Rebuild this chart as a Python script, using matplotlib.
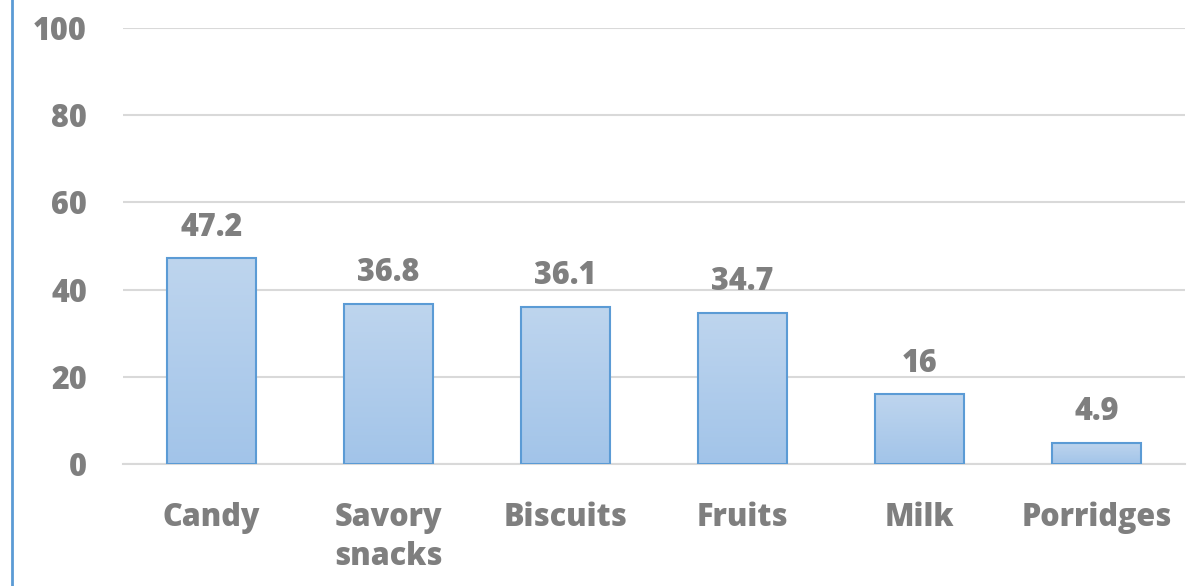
import matplotlib
matplotlib.use("Agg")
import matplotlib.pyplot as plt
import numpy as np
from matplotlib.lines import Line2D
from matplotlib.colors import LinearSegmentedColormap

categories = ["Candy", "Savory\nsnacks", "Biscuits", "Fruits", "Milk", "Porridges"]
values = [47.2, 36.8, 36.1, 34.7, 16, 4.9]
value_labels = ["47.2", "36.8", "36.1", "34.7", "16", "4.9"]
yticks = [0, 20, 40, 60, 80, 100]

plt.rcParams['font.family'] = ['Open Sans', 'DejaVu Sans']
W, H = 1199, 586
fig = plt.figure(figsize=(W / 100, H / 100), dpi=100)
ax = fig.add_axes([123 / W, 1 - 464 / H, (1185 - 123) / W, (464 - 28) / H])

gray = "#7f7f7f"
fs = 22
fw = 800
x = np.arange(len(categories))
bars = ax.bar(x, values, width=0.5, color="none", edgecolor="#5b9bd5", linewidth=1.5, zorder=3)

grad = np.linspace(0, 1, 256).reshape(-1, 1)
cmap = LinearSegmentedColormap.from_list("g", ["#a2c4e9", "#bed5ee"])
for b in bars:
    x0, y0 = b.get_x(), b.get_y()
    w, h = b.get_width(), b.get_height()
    im = ax.imshow(grad, extent=[x0, x0 + w, y0, y0 + h], origin="lower", aspect="auto",
                   cmap=cmap, zorder=2)
    im.set_clip_path(b)

for xi, v, lab in zip(x, values, value_labels):
    ax.annotate(lab, (xi, v), xytext=(0, 10.5), textcoords="offset points", ha="center",
                va="bottom", fontsize=fs, fontweight=fw, color=gray)

ax.set_xlim(-0.5, len(categories) - 0.5)
ax.set_ylim(0, 100)
ax.set_yticks(yticks)
ax.set_yticklabels([str(t) for t in yticks], fontsize=fs, fontweight=fw, color=gray)
ax.set_xticks(x)
ax.set_xticklabels(categories, fontsize=fs, fontweight=fw, color=gray, linespacing=1.3, va="top")
ax.tick_params(axis="both", length=0)
ax.tick_params(axis="y", pad=26)
ax.tick_params(axis="x", pad=27)
ax.grid(axis="y", color="#d9d9d9", linewidth=1.5, zorder=0)
ax.set_axisbelow(True)
for s in ["left", "right", "top"]:
    ax.spines[s].set_visible(False)
ax.spines["bottom"].set_color("#d9d9d9")
ax.spines["bottom"].set_linewidth(1.5)

fig.add_artist(Line2D([12.5 / W, 12.5 / W], [0, 1], color="#5b9bd5", linewidth=2))

fig.savefig("out.png", dpi=100)
